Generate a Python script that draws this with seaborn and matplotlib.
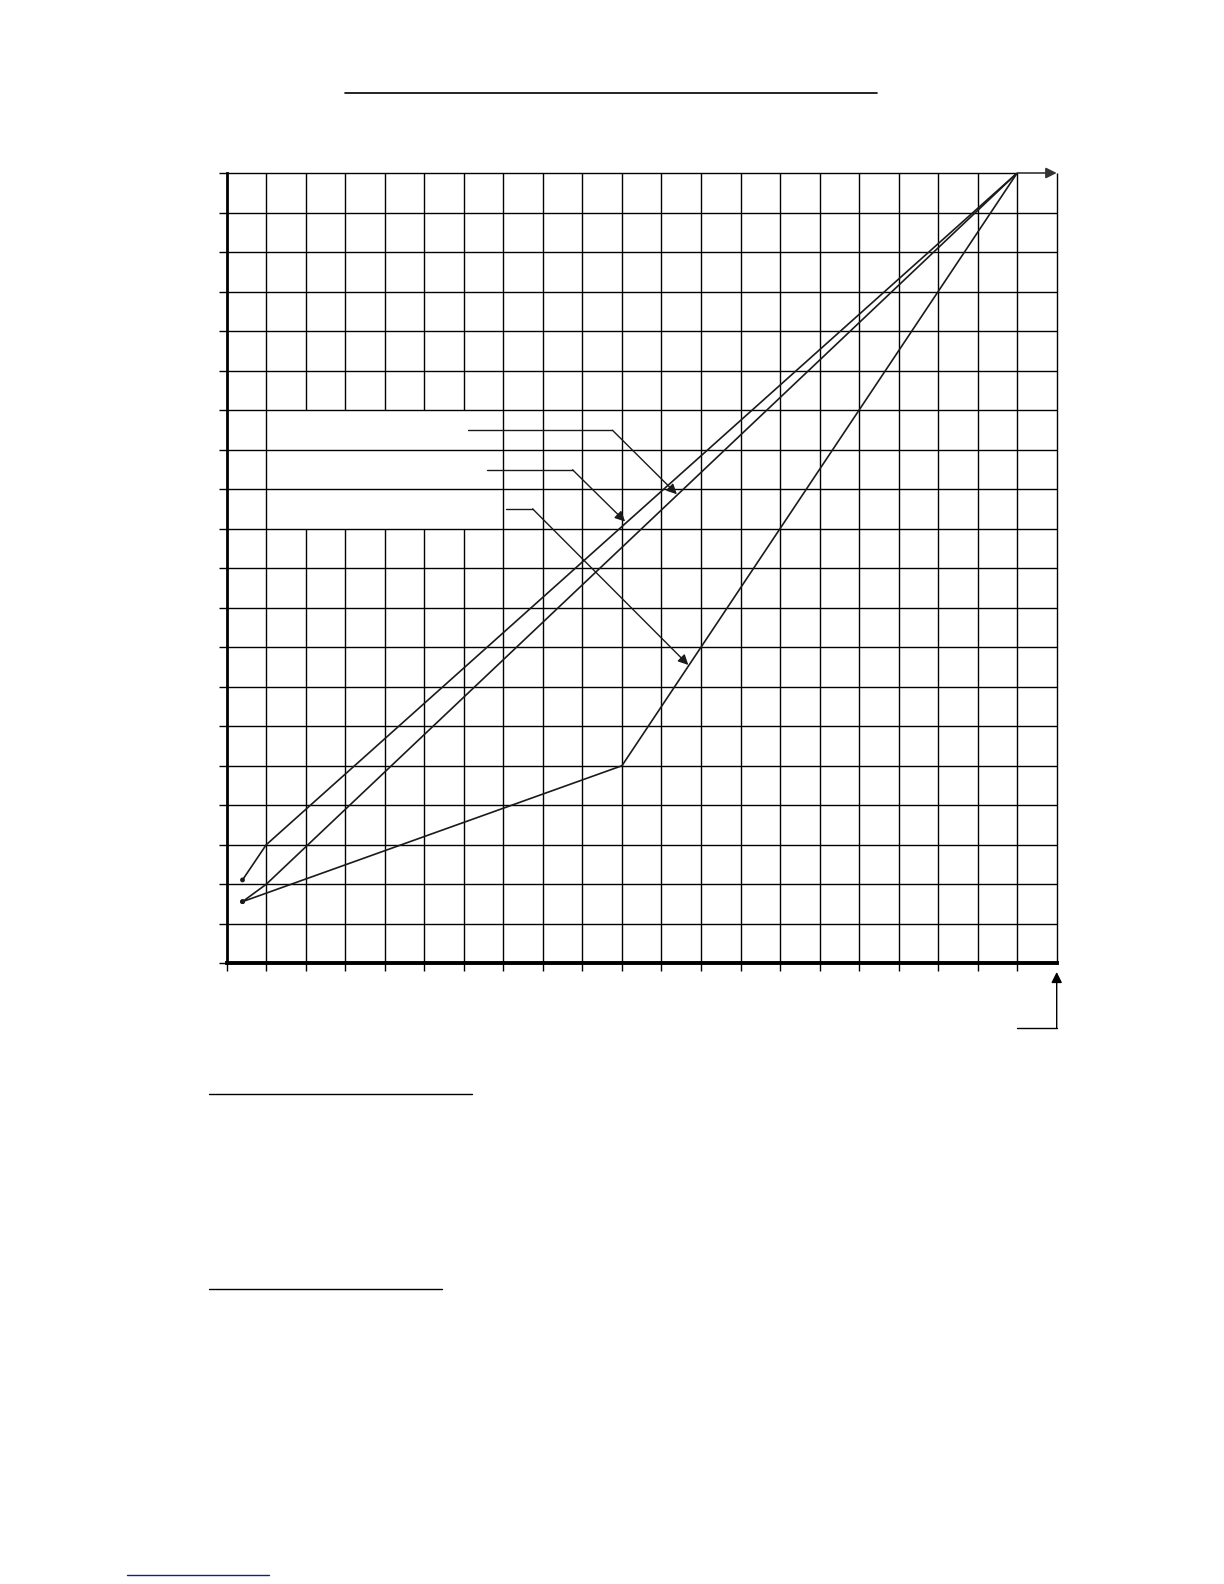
import numpy as np
import pandas as pd
import matplotlib
matplotlib.use("Agg")
import matplotlib.pyplot as plt
import seaborn as sns

# ---- data (grid units) ----
series_names = ["A", "B", "C"]
a_x = [0.40, 1.0, 20.0]
a_y = [2.11, 3.0, 20.0]
b_x = [0.40, 1.0, 20.0]
b_y = [1.56, 2.0, 20.0]
c_x = [0.40, 10.0, 20.0]
c_y = [1.56, 5.0, 20.0]

# grid
grid_x = list(range(1, 22))
grid_y = list(range(1, 21))
box_cols = [2, 3, 4, 5, 6]      # vertical lines interrupted by the blank box
box_y0, box_y1 = 11, 14

# leader arrows: (start x, elbow x, y, tip x, tip y)
leader_x0 = [6.10, 6.59, 7.07]
leader_x1 = [9.76, 8.75, 7.74]
leader_y = [13.49, 12.49, 11.50]
tip_x = [11.39, 10.08, 11.68]
tip_y = [11.87, 11.18, 7.55]

rows = []
for name, xs, ys in zip(series_names, [a_x, b_x, c_x], [a_y, b_y, c_y]):
    for i, (x, y) in enumerate(zip(xs, ys)):
        rows.append({"series": name, "order": i, "x": x, "y": y})
df = pd.DataFrame(rows)

sns.set_style("white")
plt.rcParams["font.family"] = ["DejaVu Sans"]

fig = plt.figure(figsize=(12.24, 15.84), dpi=100)
ax = fig.add_axes([226.7 / 1224, 1 - 963.3 / 1584, 830 / 1224, 790.3 / 1584])
ax.set_xlim(0, 21)
ax.set_ylim(0, 20)

# grid lines
for gx in grid_x:
    if gx in box_cols:
        ax.vlines(gx, 0, box_y0, color="black", lw=1.0, zorder=1, clip_on=False)
        ax.vlines(gx, box_y1, 20, color="black", lw=1.0, zorder=1, clip_on=False)
    else:
        ax.vlines(gx, 0, 20, color="black", lw=1.0, zorder=1, clip_on=False)
for gy in grid_y:
    xend = 20 if gy == 20 else 21
    ax.hlines(gy, 0, xend, color="black", lw=1.0, zorder=1, clip_on=False)

# top arrow
ax.annotate("", xy=(21, 20), xytext=(20, 20), annotation_clip=False,
            arrowprops=dict(arrowstyle="-|>", color="#333333", lw=1.2,
                            mutation_scale=16, shrinkA=0, shrinkB=0))
# bottom right arrow
ax.plot([20, 21], [-1.64, -1.64], color="black", lw=1.0, clip_on=False)
ax.annotate("", xy=(21, -0.22), xytext=(21, -1.64), annotation_clip=False,
            arrowprops=dict(arrowstyle="-|>", color="black", lw=1.0,
                            mutation_scale=16, shrinkA=0, shrinkB=0))

# data lines
sns.lineplot(data=df, x="x", y="y", units="series", estimator=None, sort=False,
             color="#1a1a1a", lw=1.2, ax=ax, zorder=3, legend=False)
starts = df[df["order"] == 0]
sns.scatterplot(data=starts, x="x", y="y", color="#1a1a1a", s=12, ax=ax,
                zorder=4, legend=False, edgecolor="none")

# leaders
for x0, x1, y, tx, ty in zip(leader_x0, leader_x1, leader_y, tip_x, tip_y):
    ax.plot([x0, x1], [y, y], color="#1a1a1a", lw=1.0, zorder=3)
    ax.annotate("", xy=(tx, ty), xytext=(x1, y),
                arrowprops=dict(arrowstyle="-|>", color="#1a1a1a", lw=1.0,
                                mutation_scale=15, shrinkA=0, shrinkB=0),
                zorder=4)

# axes styling
for s in ["top", "right"]:
    ax.spines[s].set_visible(False)
ax.spines["left"].set_linewidth(2.0)
ax.spines["bottom"].set_linewidth(2.8)
ax.spines["left"].set_color("black")
ax.spines["bottom"].set_color("black")
ax.set_xticks(list(range(0, 21)))
ax.set_yticks(list(range(0, 21)))
ax.set_xticklabels([])
ax.set_yticklabels([])
ax.tick_params(axis="both", direction="out", length=6, width=1.0, color="black",
               bottom=True, left=True)
ax.set_xlabel("")
ax.set_ylabel("")

# underlines of the page
fig.add_artist(plt.Line2D([345 / 1224, 877 / 1224], [1 - 93.3 / 1584] * 2,
                          color="black", lw=1.2))
fig.add_artist(plt.Line2D([209 / 1224, 472 / 1224], [1 - 1094 / 1584] * 2,
                          color="black", lw=1.0))
fig.add_artist(plt.Line2D([209 / 1224, 442 / 1224], [1 - 1289 / 1584] * 2,
                          color="black", lw=1.0))
fig.add_artist(plt.Line2D([127 / 1224, 269 / 1224], [1 - 1575 / 1584] * 2,
                          color="#1a1a8c", lw=1.0))

fig.savefig("out.png", dpi=100)
